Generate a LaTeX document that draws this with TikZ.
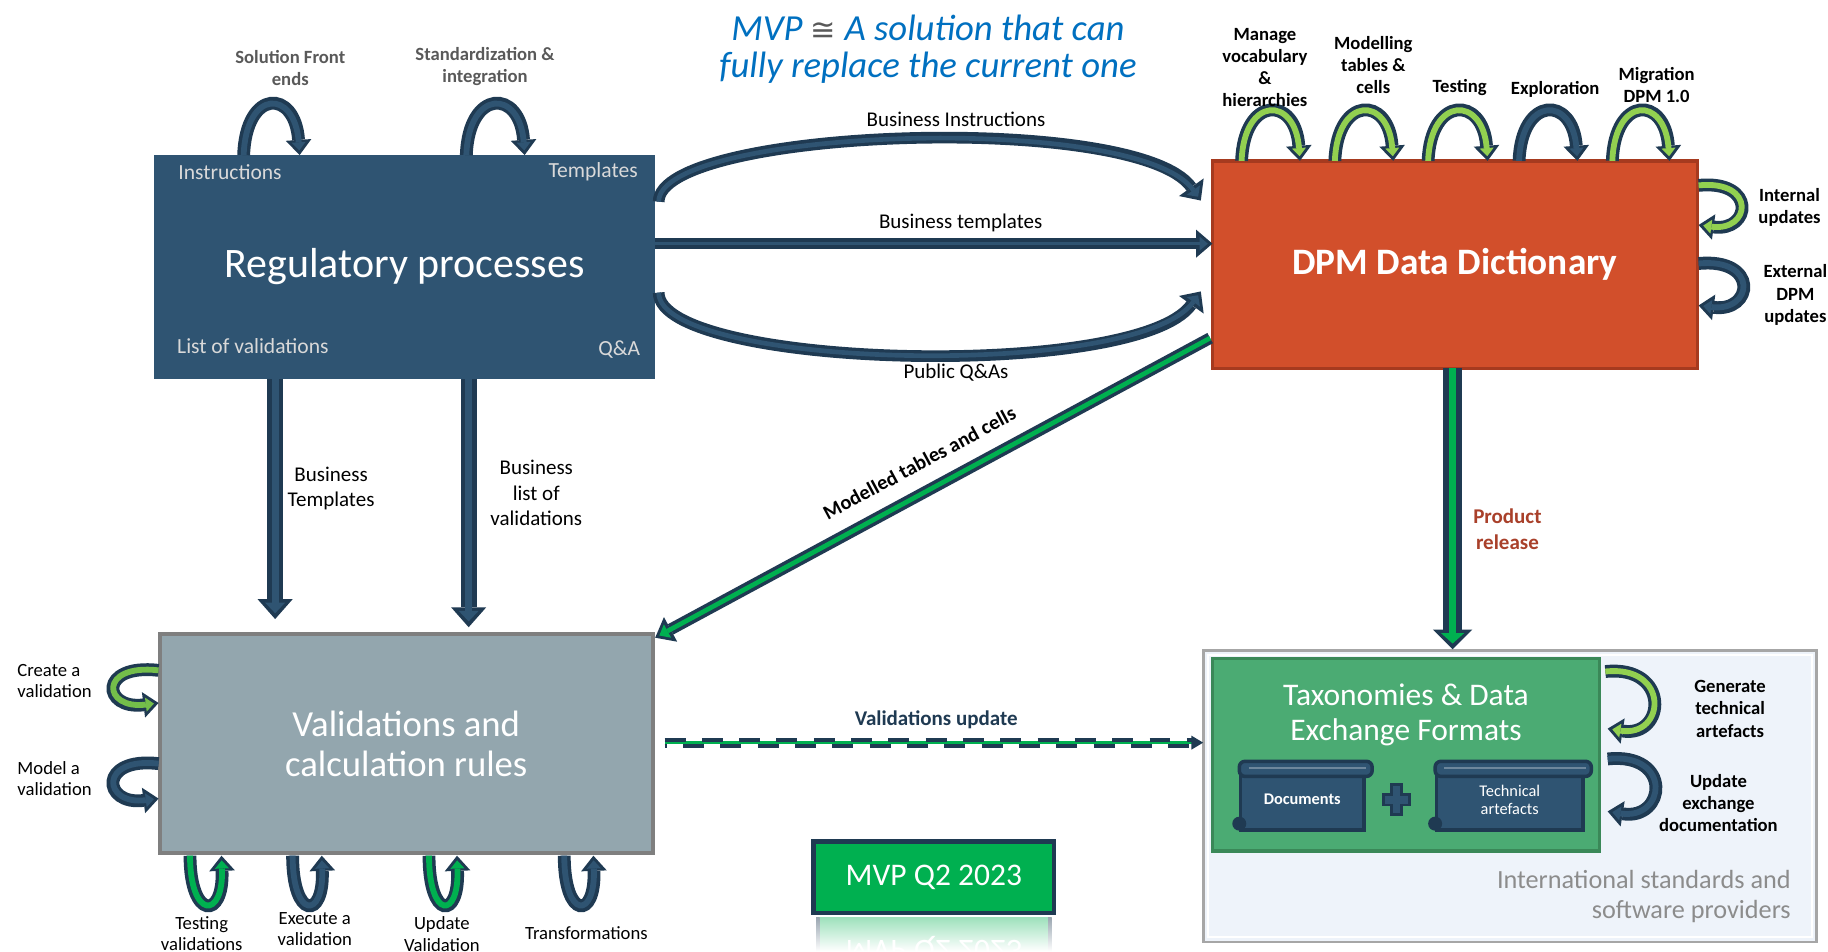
\documentclass[tikz,border=0pt]{standalone}
\usepackage{fontspec}
\setmainfont{Carlito}
\newfontfamily\djv{DejaVu Sans}
\usetikzlibrary{arrows.meta,calc}

\definecolor{dk}{HTML}{1F3A52}
\definecolor{regc}{HTML}{2F5472}
\definecolor{dpmc}{HTML}{D24F2B}
\definecolor{dpmb}{HTML}{A63A1F}
\definecolor{valc}{HTML}{93A6AE}
\definecolor{valb}{HTML}{7F7F7F}
\definecolor{taxc}{HTML}{4BAB73}
\definecolor{taxb}{HTML}{3A8858}
\definecolor{intc}{HTML}{EEF3FA}
\definecolor{intb}{HTML}{A6A6A6}
\definecolor{lg}{HTML}{92D050}
\definecolor{gr}{HTML}{00B050}
\definecolor{mg}{HTML}{74BE4A}
\definecolor{ttl}{HTML}{0070C0}
\definecolor{lbl}{HTML}{D9D9D9}
\definecolor{gtx}{HTML}{595959}
\definecolor{itx}{HTML}{8C8C8C}
\definecolor{prc}{HTML}{A9402A}

\newcommand{\fs}[2]{\fontsize{#1}{#2}\selectfont}

\tikzset{
 loopO/.style={line width=11pt, draw=dk, -{Triangle[width=22pt,length=13pt,line width=0pt]}},
 loopI/.style={line width=5pt, draw=#1, shorten >=4pt, -{Triangle[width=12pt,length=7pt,line width=0pt]}},
 bigO/.style={line width=10pt, draw=dk, -{Triangle[width=26pt,length=14pt,line width=0pt]}},
 bigI/.style={line width=4pt, draw=#1, shorten >=4pt, -{Triangle[width=14pt,length=7pt,line width=0pt]}},
 strO/.style={line width=10pt, draw=dk, -{Triangle[width=24pt,length=14pt,line width=0pt]}},
 strI/.style={line width=3pt, draw=#1, shorten >=4pt, -{Triangle[width=12pt,length=7pt,line width=0pt]}},
 dnO/.style={line width=14pt, draw=dk, -{Triangle[width=30pt,length=17pt,line width=0pt]}},
 dnI/.style={line width=6pt, draw=#1, shorten >=5pt, -{Triangle[width=17pt,length=9pt,line width=0pt]}},
 prO/.style={line width=16pt, draw=dk, -{Triangle[width=34pt,length=17pt,line width=0pt]}},
 prI/.style={line width=6pt, draw=#1, shorten >=5pt, -{Triangle[width=20pt,length=9pt,line width=0pt]}},
 dgO/.style={line width=10pt, draw=dk, -{Triangle[width=24pt,length=15pt,line width=0pt]}},
 dgI/.style={line width=4pt, draw=#1, shorten >=4pt, -{Triangle[width=13pt,length=8pt,line width=0pt]}},
 boxlbl/.style={text=lbl, font=\fs{18.5}{22}},
 blbl/.style={align=center, font=\bfseries\fs{16}{19}},
 rlbl/.style={align=center, font=\fs{16}{18.5}},
 clbl/.style={align=center, font=\fs{18}{22}},
 scrollbody/.style={fill=regc, draw=dk, line width=3pt, anchor=north west, text=white, align=center},
 scrollbar/.style={fill=regc, draw=dk, line width=3pt, rounded corners=5pt},
}

% block arrow: #1 size prefix, #2 inner colour, #3 path
\newcommand{\barrow}[3]{\draw[#1O] #3; \draw[#1I=#2] #3;}
% loop arrow: #1 anchor, #2,#3 start offset, #4,#5 end offset, #6 c1 offset, #7 c2 offset, #8 inner colour
\newcommand{\lp}[8]{%
 \path ($(#1)+(#2,#3)$) coordinate (lpS) ($(#1)+(#4,#5)$) coordinate (lpE);
 \barrow{loop}{#8}{(lpS) .. controls ($(lpS)+(#6)$) and ($(lpE)+(#7)$) .. (lpE)}}

\begin{document}
\begin{tikzpicture}[x=1pt,y=-1pt, every node/.style={inner sep=0pt, outer sep=0pt}]
\useasboundingbox (0,0) rectangle (1568,816);
\fill[white] (0,0) rectangle (1568,816);

% ---------- title
\node[align=center, text=ttl, font=\itshape\fs{31.5}{32}] (title) at (796,42)
 {MVP {\djv\color{gtx}\fs{26}{32}\upshape ≅} A solution that can\\fully replace the current one};

% ---------- boxes
\node[fill=intc, draw=intb, line width=2.5pt, minimum width=526pt, minimum height=250pt, anchor=north west] (int) at (1032,558) {};
\draw[white, line width=2pt] ($(int.north west)+(4,4)$) rectangle ($(int.south east)+(-4,-4)$);
\node[anchor=east, align=right, text=itx, font=\fs{22.5}{26}] (intt) at ($(int.south east)+(-22,-39)$) {International standards and\\software providers};

\node[fill=taxc, draw=taxb, line width=3pt, minimum width=332pt, minimum height=165pt, anchor=north west] (tax) at (1040,565) {};
\node[text=white, align=center, font=\fs{27}{30}] (taxt) at ($(tax.north)+(0,48)$) {Taxonomies \& Data\\Exchange Formats};

\node[fill=regc, minimum width=430pt, minimum height=192pt, anchor=north west, text=white, font=\fs{36}{40}] (reg) at (132,133) {Regulatory processes};
\node[boxlbl, anchor=west] (ins) at ($(reg.north west)+(21,15)$) {Instructions};
\node[boxlbl, anchor=east] (tpl) at ($(reg.north east)+(-15,14)$) {Templates};
\node[boxlbl, anchor=west] (lov) at ($(reg.south west)+(20,-28)$) {List of validations};
\node[boxlbl, anchor=east] (qa) at ($(reg.south east)+(-13,-25)$) {Q\&A};

\node[fill=dpmc, draw=dpmb, line width=3pt, minimum width=416pt, minimum height=178pt, anchor=north west, text=white, font=\bfseries\fs{32}{36}] (dpm) at (1040,138) {DPM Data Dictionary};

\node[fill=valc, draw=valb, line width=3.5pt, minimum width=423pt, minimum height=188pt, anchor=north west, text=white, align=center, font=\fs{31.5}{34}] (val) at (137,544) {Validations and\\calculation rules};

% MVP box and its reflection
\shade[top color=gr!38, bottom color=white] ($(722,784)+(-22,3)$) rectangle (902,816);
\shade[top color=dk!45, bottom color=white] (700,787) rectangle (703,816);
\shade[top color=dk!45, bottom color=white] (899,787) rectangle (902,816);
\node[text=white, font=\fs{27}{30}, yscale=-1, transform shape] (mvpr) at (801,814) {MVP Q2 2023};
\node[fill=gr, draw=dk, line width=4pt, minimum width=206pt, minimum height=61pt, anchor=north west, text=white, font=\fs{27}{30}] (mvp) at (698,722) {MVP Q2 2023};

% ---------- scrolls
\node[scrollbody, minimum width=106pt, minimum height=52pt, font=\bfseries\fs{14}{16}] (doc) at (1064,660) {Documents};
\draw[scrollbar] ($(doc.north west)+(-1,-7)$) rectangle ($(doc.north east)+(7,6)$);
\draw[regc!70!white, line width=1.5pt] ($(doc.north west)+(7,-1)$) -- ($(doc.north east)+(2,-1)$);
\fill[dk] ($(doc.south west)+(-1,-5.5)$) circle[radius=6pt];
\node[scrollbody, minimum width=126pt, minimum height=52pt, font=\fs{14}{16}] (tech) at (1232,660) {Technical\\artefacts};
\draw[scrollbar] ($(tech.north west)+(-1,-7)$) rectangle ($(tech.north east)+(7,6)$);
\draw[regc!70!white, line width=1.5pt] ($(tech.north west)+(7,-1)$) -- ($(tech.north east)+(2,-1)$);
\fill[dk] ($(tech.south west)+(-1,-5.5)$) circle[radius=6pt];
\coordinate (pl) at ($(doc.east)!0.45!(tech.west)$);
\draw[fill=regc, draw=dk, line width=2.5pt, shift={(pl)}]
 (-4.5,-13) -- (4.5,-13) -- (4.5,-4.5) -- (11,-4.5) -- (11,4.5) -- (4.5,4.5) -- (4.5,13)
 -- (-4.5,13) -- (-4.5,4.5) -- (-11,4.5) -- (-11,-4.5) -- (-4.5,-4.5) -- cycle;

% ---------- connectors Reg -> DPM
\coordinate (bi1) at ($(reg.north east)+(3,40)$);
\coordinate (bi2) at ($(dpm.north west)+(-10,34)$);
\barrow{big}{regc}{(bi1) .. controls ($(bi1)+(0,-63)$) and ($(bi2)+(-55,-77)$) .. (bi2)}
\node[clbl] (bil) at (820,102) {Business Instructions};

\coordinate (bt1) at ($(reg.north east)+(0,76)$);
\barrow{str}{regc}{(bt1) -- (bt1 -| dpm.west)}
\node[clbl] (btl) at (824,191) {Business templates};

\coordinate (pq1) at ($(reg.south east)+(3,-74)$);
\coordinate (pq2) at ($(dpm.south west)+(-10,-66)$);
\barrow{big}{regc}{(pq1) .. controls ($(pq1)+(0,65)$) and ($(pq2)+(-55,77)$) .. (pq2)}
\node[clbl] (pql) at (820,320) {Public Q\&As};

% ---------- Reg -> Validations
\coordinate (d1) at ($(reg.south west)+(104,0)$);
\barrow{dn}{regc}{(d1) -- ($(d1 |- val.north)+(0,-13)$)}
\node[clbl] (d1l) at (284,419) {Business\\Templates};
\coordinate (d2) at ($(reg.south west)+(270,0)$);
\barrow{dn}{regc}{(d2) -- ($(d2 |- val.north)+(0,-6)$)}
\node[clbl] (d2l) at (460,423) {Business\\list of\\validations};

% ---------- DPM -> Validations (diagonal)
\coordinate (dg1) at ($(dpm.south west)+(-2,-26)$);
\coordinate (dg2) at ($(val.north east)+(2,3)$);
\barrow{dg}{gr}{(dg1) -- (dg2)}
\path (dg2) -- (dg1) node[pos=0.5, sloped, above=18pt, font=\bfseries\fs{17.5}{20}] (dgl) {Modelled tables and cells};

% ---------- DPM -> Taxonomies (product release)
\coordinate (pr1) at ($(dpm.south)+(-2,0)$);
\barrow{pr}{gr}{(pr1) -- ($(pr1 |- int.north)+(0,-1)$)}
\node[blbl, text=prc, font=\bfseries\fs{18}{22}] (prl) at (1293,454) {Product\\release};

% ---------- Validations update (dashed)
\coordinate (vu1) at ($(val.east)+(10,-1)$);
\coordinate (vu2) at (vu1 -| int.west);
\draw[gr, line width=2.5pt] (vu1) -- ($(vu2)+(-6,0)$);
\draw[dk, line width=3.5pt, dash pattern=on 18pt off 14pt] ($(vu1)+(0,-2.5)$) -- ($(vu2)+(-9,-2.5)$);
\draw[dk, line width=3.5pt, dash pattern=on 18pt off 14pt, dash phase=16pt] ($(vu1)+(0,2.5)$) -- ($(vu2)+(-9,2.5)$);
\fill[dk] (vu2) -- ($(vu2)+(-10,-6)$) -- ($(vu2)+(-10,6)$) -- cycle;
\node[font=\bfseries\fs{18}{20}, text=dk] (vul) at (803,617) {Validations update};

% ---------- loops on Regulatory processes
\lp{reg.north west}{77}{0}{125}{0}{2,-57}{-4,-57}{regc}
\lp{reg.north west}{268}{0}{318}{0}{2,-57}{-4,-57}{regc}
\node[blbl, text=gtx] (l1) at (249,58) {Solution Front\\ends};
\node[blbl, text=gtx] (l2) at (416,57) {Standardization \&\\integration};

% ---------- loops on DPM top
\lp{dpm.north west}{25}{0}{75}{0}{2,-56}{-4,-56}{lg}
\lp{dpm.north west}{105}{0}{155}{0}{2,-56}{-4,-56}{lg}
\lp{dpm.north west}{185}{0}{236}{0}{2,-56}{-4,-56}{lg}
\lp{dpm.north west}{263}{0}{313}{0}{2,-56}{-4,-56}{regc}
\lp{dpm.north west}{343}{0}{392}{0}{2,-56}{-4,-56}{lg}
\node[blbl] (m1) at (1085,58) {Manage\\vocabulary\\\&\\hierarchies};
\node[blbl] (m2) at (1178,56) {Modelling\\tables \&\\cells};
\node[blbl] (m3) at (1252,75) {Testing};
\node[blbl] (m4) at (1334,77) {Exploration};
\node[blbl] (m5) at (1421,73) {Migration\\DPM 1.0};

% ---------- loops on DPM right
\lp{dpm.north east}{1}{21}{1}{55}{50,-5}{45,6}{lg}
\lp{dpm.north east}{1}{88}{1}{124}{52,-5}{47,6}{regc}
\node[blbl] (r1) at (1535,178) {Internal\\updates};
\node[blbl] (r2) at (1540,253) {External\\DPM\\updates};

% ---------- loops on Taxonomies right
\lp{tax.north east}{5}{11}{7}{60}{56,-6}{50,8}{lg}
\lp{tax.north east}{7}{86}{7}{131}{56,-6}{50,8}{regc}
\node[blbl] (t1) at (1484,608) {Generate\\technical\\artefacts};
\node[blbl] (t2) at (1474,689) {Update\\exchange\\documentation};

% ---------- loops on Validations left
\lp{val.north west}{-1}{31}{-1}{59}{-52,-6}{-48,6}{mg}
\lp{val.north west}{-1}{111}{-1}{141}{-52,-6}{-48,6}{regc}
\node[rlbl, align=left, anchor=west] (v1) at (15,584) {Create a\\validation};
\node[rlbl, align=left, anchor=west] (v2) at (15,668) {Model a\\validation};

% ---------- loops on Validations bottom
\lp{val.south west}{26}{2}{53}{2}{0,55}{2,55}{gr}
\lp{val.south west}{114}{2}{139}{2}{0,55}{2,55}{regc}
\lp{val.south west}{231}{2}{255}{2}{0,55}{2,55}{gr}
\lp{val.south west}{347}{2}{372}{2}{0,55}{2,55}{regc}
\node[rlbl] (b1) at (173,801) {Testing\\validations};
\node[rlbl] (b2) at (270,797) {Execute a\\validation};
\node[rlbl] (b3) at (379,801) {Update\\Validation};
\node[rlbl] (b4) at (503,800) {Transformations};
\end{tikzpicture}
\end{document}
